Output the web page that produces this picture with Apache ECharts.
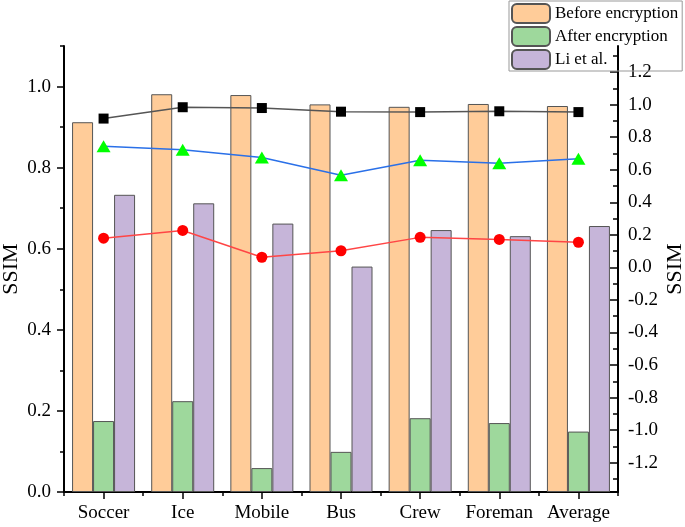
<!DOCTYPE html>
<html>
<head>
<meta charset="utf-8">
<script src="https://cdn.jsdelivr.net/npm/echarts@6/dist/echarts.min.js"></script>
<style>html,body{margin:0;padding:0;background:#fff}#c{width:685px;height:527px}</style>
</head>
<body>
<div id="c"></div>
<script>
const categories = ['Soccer', 'Ice', 'Mobile', 'Bus', 'Crew', 'Foreman', 'Average'];
const beforeEnc = [0.912, 0.981, 0.979, 0.956, 0.950, 0.957, 0.952];
const afterEnc = [0.175, 0.224, 0.059, 0.099, 0.182, 0.170, 0.149];
const liEtAl = [0.733, 0.712, 0.662, 0.556, 0.646, 0.631, 0.656];
const blackLine = [0.921, 0.949, 0.947, 0.938, 0.937, 0.939, 0.937];
const blueLine = [0.853, 0.844, 0.825, 0.781, 0.818, 0.811, 0.822];
const redLine = [0.626, 0.645, 0.579, 0.595, 0.628, 0.623, 0.616];
const leftTicks = [0, 0.2, 0.4, 0.6, 0.8, 1.0];
const leftMinor = [0.1, 0.3, 0.5, 0.7, 0.9, 1.1];
const rightTicks = [-1.2, -1.0, -0.8, -0.6, -0.4, -0.2, 0, 0.2, 0.4, 0.6, 0.8, 1.0, 1.2];
const rightMinor = [-1.3, -1.1, -0.9, -0.7, -0.5, -0.3, -0.1, 0.1, 0.3, 0.5, 0.7, 0.9, 1.1, 1.3];

const FONT = 'Liberation Serif';
const fmt = v => (Math.abs(v) < 1e-9 ? 0 : v).toFixed(1);
const chart = echarts.init(document.getElementById('c'), null, {renderer: 'canvas'});
const axisLine = {show: true, onZero: false, lineStyle: {color: '#000', width: 2}};
const barBase = {type: 'bar', barWidth: 21, barGap: '0%', xAxisIndex: 0, yAxisIndex: 0};
chart.setOption({
  animation: false,
  backgroundColor: '#fff',
  textStyle: {fontFamily: FONT, color: '#000'},
  grid: {left: 64, right: 67, top: 46, bottom: 35, containLabel: false, outerBoundsMode: 'none'},
  legend: {
    data: ['Before encryption', 'After encryption', 'Li et al.'],
    orient: 'vertical', left: 509, top: 1,
    padding: [2, 4, 1, 2], itemGap: 2, itemWidth: 38, itemHeight: 19,
    borderColor: '#999', borderWidth: 1, backgroundColor: 'transparent',
    textStyle: {fontFamily: FONT, fontSize: 17, lineHeight: 19, color: '#000'}
  },
  xAxis: [{
    type: 'category', data: categories, position: 'bottom',
    axisLine: axisLine,
    axisTick: {show: true, alignWithLabel: true, length: 7, lineStyle: {color: '#000', width: 1.5}},
    axisLabel: {interval: 0, fontFamily: FONT, fontSize: 19, color: '#000', margin: 12}
  }, {
    type: 'category', data: categories, position: 'bottom',
    axisLine: {show: false, onZero: false},
    axisTick: {show: true, alignWithLabel: false, length: 4, lineStyle: {color: '#000', width: 1.5}},
    axisLabel: {show: false}
  }],
  yAxis: [{
    type: 'value', position: 'left', min: 0, max: 1.1,
    name: 'SSIM', nameLocation: 'middle', nameRotate: 90, nameGap: 42, nameMoveOverlap: false,
    nameTextStyle: {fontFamily: FONT, fontSize: 22, color: '#000'},
    axisLine: axisLine, splitLine: {show: false},
    axisTick: {show: true, inside: false, length: 7, customValues: leftTicks, lineStyle: {color: '#000', width: 1.5}},
    axisLabel: {customValues: leftTicks, formatter: fmt, fontFamily: FONT, fontSize: 19, color: '#000', margin: 13}
  }, {
    type: 'value', position: 'right', min: -1.38, max: 1.36,
    name: 'SSIM', nameLocation: 'middle', nameRotate: 90, nameGap: 46, nameMoveOverlap: false,
    nameTextStyle: {fontFamily: FONT, fontSize: 22, color: '#000'},
    axisLine: axisLine, splitLine: {show: false},
    axisTick: {show: true, inside: true, length: 8, customValues: rightTicks, lineStyle: {color: '#000', width: 1.5}},
    axisLabel: {customValues: rightTicks, formatter: fmt, fontFamily: FONT, fontSize: 19, color: '#000', margin: 10}
  }, {
    type: 'value', position: 'left', min: 0, max: 1.1,
    axisLine: {show: false, onZero: false}, splitLine: {show: false},
    axisTick: {show: true, inside: false, length: 4, customValues: leftMinor, lineStyle: {color: '#000', width: 1.5}},
    axisLabel: {show: false}
  }, {
    type: 'value', position: 'right', min: -1.38, max: 1.36,
    axisLine: {show: false, onZero: false}, splitLine: {show: false},
    axisTick: {show: true, inside: true, length: 5, customValues: rightMinor, lineStyle: {color: '#000', width: 1.5}},
    axisLabel: {show: false}
  }],
  series: [
    Object.assign({}, barBase, {name: 'Before encryption', data: beforeEnc,
      itemStyle: {color: '#FFCC99', borderColor: '#555', borderWidth: 1}}),
    Object.assign({}, barBase, {name: 'After encryption', data: afterEnc,
      itemStyle: {color: '#9ED89C', borderColor: '#555', borderWidth: 1}}),
    Object.assign({}, barBase, {name: 'Li et al.', data: liEtAl,
      itemStyle: {color: '#C6B5D9', borderColor: '#555', borderWidth: 1}}),
    {type: 'line', name: 'black', data: blackLine, z: 5, symbol: 'rect', symbolSize: 10,
      itemStyle: {color: '#000'}, lineStyle: {color: '#555', width: 1.5}},
    {type: 'line', name: 'blue', data: blueLine, z: 5, symbol: 'triangle', symbolSize: [14, 12],
      itemStyle: {color: '#00FF00'}, lineStyle: {color: '#2A70E8', width: 1.5}},
    {type: 'line', name: 'red', data: redLine, z: 5, symbol: 'circle', symbolSize: 11,
      itemStyle: {color: '#FF0000'}, lineStyle: {color: '#FF4545', width: 1.5}}
  ]
});
</script>
</body>
</html>
